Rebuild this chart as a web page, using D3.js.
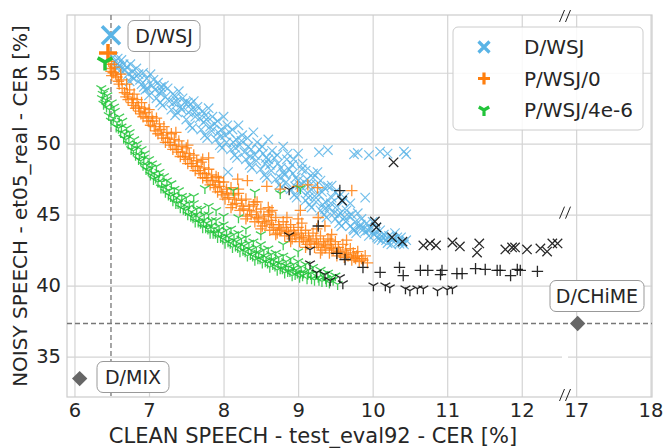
<!DOCTYPE html>
<html><head><meta charset="utf-8">
<script src="https://cdn.jsdelivr.net/npm/d3@7"></script>
<style>
body{margin:0;background:#fff;}
svg{display:block;}
.t{font-family:"DejaVu Sans",sans-serif;}
</style></head>
<body><svg id="c" width="663" height="448"></svg>
<script>
// ---------------- DATA ----------------
const xTicks = [6,7,8,9,10,11,12,17,18];
const yTicks = [35,40,45,50,55];
const seriesNames = ["D/WSJ","P/WSJ/0","P/WSJ/4e-6"];
const xLabel = "CLEAN SPEECH - test_eval92 - CER [%]";
const yLabel = "NOISY SPEECH - et05_real - CER [%]";

// D/WSJ (blue x)
const wsjPts = [[6.52,56.1],[6.55,55.8],[6.58,56.0],[6.6,55.5],[6.57,55.3],[6.63,55.9],[6.66,55.6],[6.62,55.2],
[6.7,55.4],[6.72,54.9],[6.75,55.6],[6.78,55.1],[6.8,54.6],[6.74,54.4],[6.83,55.3],[6.86,54.9],
[6.9,54.2],[6.92,55.0],[6.95,53.8],[6.97,54.6],[7.0,53.4],[7.02,54.9],[7.04,54.1],[6.98,53.9],[7.06,54.5],
[7.1,53.2],[7.12,54.3],[7.15,52.9],[7.17,53.7],[7.2,54.1],[7.22,53.3],[7.18,52.7],[7.25,53.9],[7.14,53.6],
[7.3,52.4],[7.32,53.5],[7.35,52.0],[7.37,53.0],[7.4,53.7],[7.42,52.6],[7.38,52.2],[7.45,53.2],[7.33,52.9],
[7.5,51.7],[7.52,52.9],[7.55,51.3],[7.57,52.4],[7.6,53.0],[7.62,51.9],[7.58,51.1],[7.65,52.6],[7.53,52.2],
[7.7,51.0],[7.72,52.3],[7.75,50.6],[7.77,51.7],[7.8,52.5],[7.82,51.2],[7.78,50.4],[7.85,51.9],[7.73,51.5],
[7.9,50.3],[7.92,51.6],[7.95,49.9],[7.97,51.0],[8.0,51.9],[8.02,50.6],[7.98,49.7],[8.05,51.3],[7.93,50.8],
[8.1,49.6],[8.12,51.0],[8.15,49.2],[8.17,50.3],[8.2,51.3],[8.22,49.9],[8.18,49.0],[8.25,50.6],[8.13,50.1],
[8.3,48.9],[8.32,50.4],[8.35,48.5],[8.37,49.6],[8.4,50.8],[8.42,49.2],[8.38,48.3],[8.45,50.1],[8.33,49.8],
[8.5,48.2],[8.52,49.8],[8.55,47.8],[8.57,49.0],[8.6,50.3],[8.62,48.5],[8.58,47.6],[8.65,49.5],[8.53,49.3],[8.6,48.9],
[8.7,47.5],[8.72,49.2],[8.75,47.1],[8.77,48.3],[8.8,49.8],[8.82,47.8],[8.78,46.9],[8.85,48.9],[8.73,48.6],[8.8,48.0],
[8.9,46.8],[8.92,48.5],[8.95,46.4],[8.97,47.6],[9.0,49.3],[9.02,47.1],[8.98,46.2],[9.05,48.2],[8.93,47.9],[9.0,47.4],
[9.1,46.0],[9.12,47.5],[9.15,45.7],[9.17,46.8],[9.2,47.9],[9.22,46.3],[9.18,45.5],[9.25,47.1],[9.13,46.5],
[9.3,45.3],[9.32,46.6],[9.35,45.0],[9.37,45.9],[9.4,47.0],[9.42,45.5],[9.38,44.8],[9.45,46.2],[9.33,45.7],
[9.5,44.7],[9.52,45.6],[9.55,44.4],[9.57,45.1],[9.6,45.9],[9.62,44.8],[9.58,44.2],[9.65,45.3],
[9.7,44.2],[9.72,45.0],[9.75,43.9],[9.77,44.5],[9.8,45.1],[9.82,44.1],[9.78,43.7],[9.85,44.7],
[9.9,43.8],[9.92,44.4],[9.95,43.5],[9.97,44.0],[10.0,44.5],[10.02,43.6],[10.05,44.1],[10.08,43.3],
[10.1,43.9],[10.12,43.2],[10.15,43.6],[10.2,43.0],[10.22,43.5],[10.25,42.9],[10.28,43.3],[10.3,43.7],
[10.35,43.1],[10.38,43.4],[10.42,42.9],[10.45,43.2],[10.4,43.0],
[9.28,49.4],[9.4,49.55],[9.75,49.25],[9.8,49.35],[9.95,49.2],[10.1,49.45],[10.2,49.3],[10.42,49.45],[10.45,49.25],
[9.16,47.1],[9.45,47.05],[9.9,46.2],[8.06,48.0],[9.55,46.3],
[6.58,55.6],[6.68,55.2],[6.77,54.7],[6.88,54.5],[6.93,54.0],[7.08,53.8],[7.16,54.0],[7.27,53.0],[7.36,53.3],[7.44,52.4],
[7.48,52.9],[7.56,52.8],[7.63,52.3],[7.68,51.8],[7.76,52.0],[7.84,50.9],[7.88,51.4],[7.96,50.5],[8.04,50.1],[8.08,50.8],
[8.16,49.7],[8.24,50.2],[8.28,49.4],[8.36,49.1],[8.44,48.8],[8.48,49.6],[8.56,48.6],[8.64,48.1],[8.68,49.0],[8.76,47.6],
[8.84,47.3],[8.88,48.2],[8.96,47.0],[9.04,46.7],[9.08,47.3],[9.14,46.2],[9.24,45.9],[9.28,46.4],[9.36,45.4],[9.44,45.8],
[9.48,45.1],[9.54,45.0],[9.64,44.5],[9.68,44.9],[9.74,44.0],[9.84,44.3],[9.88,44.0],[9.94,43.9],[10.04,43.8],[10.06,43.4],
[10.14,43.4],[10.18,43.2],[10.26,43.2],[10.33,43.4],[10.36,42.95],
[8.86,49.3],[8.94,48.9],[9.06,48.6],[9.1,48.1],[9.2,47.6],[9.3,47.4],[9.26,48.0],[9.35,46.9],[9.5,46.6],[9.62,46.2],[9.7,45.8]];

// P/WSJ/0 (orange +)
const wsj0Pts = [[6.46,55.8],[6.48,55.3],[6.5,55.6],[6.52,55.0],[6.54,55.4],[6.5,54.8],
[6.57,54.7],[6.6,54.2],[6.62,54.9],[6.64,53.9],[6.59,54.4],
[6.67,53.6],[6.7,54.2],[6.72,53.1],[6.74,53.8],[6.69,53.3],
[6.77,52.9],[6.8,53.5],[6.82,52.5],[6.84,53.1],[6.79,52.7],
[6.87,52.3],[6.9,52.9],[6.92,51.9],[6.94,52.5],[6.89,52.1],
[6.97,51.8],[7.0,52.4],[7.02,51.3],[7.04,51.9],[6.99,51.6],
[7.07,51.2],[7.1,51.8],[7.12,50.7],[7.14,51.4],[7.09,50.9],
[7.17,50.6],[7.2,51.2],[7.22,50.1],[7.24,50.8],[7.19,50.4],
[7.27,50.1],[7.3,50.7],[7.32,49.6],[7.34,50.3],[7.29,49.9],
[7.37,49.6],[7.4,50.2],[7.42,49.1],[7.44,49.8],[7.39,49.4],
[7.47,49.1],[7.5,49.7],[7.52,48.6],[7.54,49.3],[7.49,48.9],
[7.57,48.6],[7.6,49.2],[7.62,48.1],[7.64,48.8],[7.59,48.4],
[7.67,48.1],[7.7,48.7],[7.72,47.6],[7.74,48.3],[7.69,47.9],
[7.77,47.6],[7.8,48.2],[7.82,47.1],[7.84,47.8],[7.79,47.4],
[7.87,47.1],[7.9,47.7],[7.92,46.6],[7.94,47.3],[7.89,46.9],
[7.97,46.6],[8.0,47.3],[8.02,46.1],[8.04,46.8],[7.99,46.4],
[8.07,46.2],[8.1,46.9],[8.12,45.7],[8.14,46.4],
[8.17,45.8],[8.2,46.5],[8.22,45.3],[8.24,46.0],
[8.27,45.4],[8.3,46.1],[8.32,44.9],[8.34,45.6],
[8.37,45.0],[8.4,45.7],[8.42,44.5],[8.44,45.2],
[8.47,44.7],[8.5,45.4],[8.52,44.2],[8.54,44.9],
[8.57,44.4],[8.6,45.0],[8.62,43.9],[8.64,44.6],
[8.67,44.1],[8.7,44.8],[8.72,43.7],[8.74,44.3],
[8.77,43.9],[8.8,44.5],[8.82,43.5],[8.84,44.1],
[8.87,43.7],[8.9,44.3],[8.92,43.3],[8.94,43.9],
[8.97,43.5],[9.0,44.1],[9.02,43.1],[9.04,43.7],
[9.07,43.3],[9.1,43.9],[9.12,42.9],[9.14,43.5],
[9.17,43.1],[9.2,43.7],[9.22,42.7],[9.24,43.3],
[9.27,42.9],[9.3,43.5],[9.32,42.5],[9.34,43.1],
[9.37,42.7],[9.4,43.3],[9.42,42.3],[9.44,42.9],
[9.47,42.5],[9.5,43.1],[9.52,42.1],[9.54,42.7],
[9.57,42.3],[9.6,42.9],[9.62,42.0],[9.64,42.5],
[9.67,42.1],[9.7,42.6],[9.72,41.8],[9.74,42.3],
[9.77,41.9],[9.8,42.4],[9.82,41.7],
[9.87,41.8],[9.9,42.1],[9.93,41.6],
[7.93,47.6],[8.19,47.5],[8.32,47.4],[8.58,47.0],[8.76,46.8],[8.99,47.0],[9.13,47.1],[9.26,46.9],[9.72,46.7],
[9.03,45.3],[9.0,44.7],[9.27,44.8],[9.36,44.2],[8.6,45.5],[8.62,45.2],[8.42,45.9],[9.43,43.2],[9.79,42.1],
[7.36,50.8],[7.52,49.9],[7.72,48.9],[7.8,49.0],
[6.49,55.1],[6.55,54.9],[6.63,54.5],[6.71,53.5],[6.78,53.2],[6.86,52.6],[6.95,52.2],[7.05,51.6],[7.15,51.0],[7.25,50.4],
[7.35,49.9],[7.45,49.4],[7.55,49.0],[7.65,48.4],[7.75,47.9],[7.85,47.4],[7.95,47.0],[8.05,46.5],[8.15,46.1],[8.25,45.6],
[8.35,45.3],[8.45,44.8],[8.55,44.5],[8.65,44.3],[8.75,44.0],[8.85,43.8],[8.95,43.6],[9.05,43.4],[9.15,43.2],[9.25,43.0],
[9.35,42.8],[9.45,42.6],[9.55,42.4],[9.65,42.2],[9.75,42.0],[9.85,41.9],
[8.1,45.5],[8.3,44.7],[8.5,44.0],[8.7,43.6],[8.9,43.1],[9.1,42.7],[9.3,42.3],[8.2,46.8],[8.45,45.9],[8.65,45.3],
[8.85,44.8],[9.05,44.4],[9.25,44.0],[9.45,43.6],[9.65,43.2]];

// P/WSJ/4e-6 (green tri)
const wsj4e6Pts = [[6.36,53.9],[6.38,53.5],[6.4,53.7],[6.42,53.1],[6.39,52.8],[6.44,53.4],[6.43,52.6],
[6.47,52.4],[6.5,52.9],[6.52,51.8],[6.49,51.6],[6.54,52.3],
[6.57,51.5],[6.6,51.9],[6.62,50.8],[6.59,51.1],[6.64,51.6],
[6.67,50.7],[6.7,51.1],[6.72,50.0],[6.69,50.3],[6.74,50.8],
[6.77,49.9],[6.8,50.3],[6.82,49.2],[6.79,49.5],[6.84,50.0],
[6.87,49.2],[6.9,49.6],[6.92,48.5],[6.89,48.8],[6.94,49.3],
[6.97,48.5],[7.0,48.9],[7.02,47.8],[6.99,48.1],[7.04,48.6],
[7.07,47.9],[7.1,48.4],[7.12,47.3],[7.09,47.6],[7.14,48.0],
[7.17,47.3],[7.2,47.7],[7.22,46.6],[7.19,46.9],[7.24,47.4],
[7.27,46.7],[7.3,47.2],[7.32,46.0],[7.29,46.3],[7.34,46.8],
[7.37,46.2],[7.4,46.7],[7.42,45.5],[7.39,45.8],[7.44,46.3],
[7.47,45.7],[7.5,46.2],[7.52,45.0],[7.49,45.3],[7.54,45.8],
[7.57,45.2],[7.6,45.8],[7.62,44.5],[7.59,44.8],[7.64,45.4],
[7.67,44.8],[7.7,45.4],[7.72,44.1],[7.69,44.4],[7.74,45.0],
[7.77,44.4],[7.8,45.0],[7.82,43.7],[7.79,44.0],[7.84,44.6],
[7.87,44.0],[7.9,44.6],[7.92,43.4],[7.89,43.7],[7.94,44.2],
[7.97,43.7],[8.0,44.3],[8.02,43.0],[7.99,43.3],[8.04,43.9],
[8.07,43.4],[8.1,44.0],[8.12,42.7],[8.09,43.0],[8.14,43.6],
[8.17,43.1],[8.2,43.7],[8.22,42.4],[8.19,42.7],[8.24,43.3],
[8.27,42.8],[8.3,43.4],[8.32,42.1],[8.29,42.4],[8.34,43.0],
[8.37,42.5],[8.4,43.1],[8.42,41.8],[8.39,42.1],[8.44,42.7],
[8.47,42.3],[8.5,42.9],[8.52,41.6],[8.49,41.9],[8.54,42.5],
[8.57,42.0],[8.6,42.6],[8.62,41.3],[8.59,41.6],[8.64,42.2],
[8.67,41.8],[8.7,42.3],[8.72,41.1],[8.69,41.4],[8.74,42.0],
[8.77,41.5],[8.8,42.1],[8.82,40.9],[8.79,41.2],[8.84,41.7],
[8.87,41.3],[8.9,41.9],[8.92,40.7],[8.89,41.0],[8.94,41.5],
[8.97,41.1],[9.0,41.7],[9.02,40.6],[8.99,40.9],[9.04,41.3],
[9.07,40.9],[9.1,41.5],[9.12,40.5],[9.14,41.1],
[9.17,40.8],[9.2,41.3],[9.22,40.4],[9.24,40.9],
[9.27,40.6],[9.3,41.1],[9.32,40.3],[9.34,40.8],
[9.37,40.5],[9.4,40.9],[9.42,40.2],
[9.47,40.4],[9.5,40.7],[9.53,40.1],
[7.75,46.85],[8.13,46.7],[8.42,46.6],[8.76,46.5],[9.03,46.85],[7.9,45.3],[8.2,44.8],
[6.37,53.2],[6.41,52.9],[6.46,52.0],[6.53,52.6],[6.56,51.2],[6.63,51.2],[6.66,50.4],[6.73,50.5],[6.76,49.6],[6.83,49.7],
[6.86,48.9],[6.93,49.0],[6.96,48.2],[7.03,48.3],[7.06,47.5],[7.13,47.7],[7.16,46.9],[7.23,47.0],[7.26,46.4],[7.33,46.4],
[7.36,45.8],[7.43,46.0],[7.46,45.4],[7.53,45.5],[7.56,44.9],[7.63,45.0],[7.66,44.5],[7.73,44.6],[7.76,44.1],[7.83,44.2],
[7.86,43.7],[7.93,43.9],[7.96,43.4],[8.03,43.5],[8.06,43.1],[8.13,43.2],[8.16,42.8],[8.23,42.9],[8.26,42.5],[8.33,42.6],
[8.36,42.2],[8.43,42.3],[8.46,41.9],[8.53,42.1],[8.56,41.7],[8.63,41.8],[8.66,41.5],[8.73,41.6],[8.76,41.2],[8.83,41.4],
[8.86,41.0],[8.93,41.2],[8.96,40.8],[9.03,40.9],[9.06,40.7],[9.13,40.8],[9.18,40.5],[9.28,40.4],[9.38,40.3],[9.45,40.6],
[7.6,46.3],[7.8,45.6],[8.0,44.9],[8.3,44.0],[8.5,43.6],[8.8,42.9],[9.0,42.4]];

// black (worse than reference) points
const wsjOut = [[10.28,48.69],[9.59,46.0],[10.03,44.52],[10.05,44.1],[10.26,43.4],[10.4,43.1],[10.68,42.83],[10.77,42.97],
[10.85,42.83],[11.07,43.04],[11.17,42.76],[11.43,42.97],[11.4,42.33],[11.78,42.55],[11.87,42.69],[11.91,42.69],
[12.07,42.55],[12.25,42.62],[12.34,42.4],[12.41,42.97],[12.48,42.97]];
const wsj0Out = [[9.56,46.7],[9.27,44.2],[9.52,42.27],[9.63,41.84],[9.87,41.28],[10.1,40.93],[10.36,41.28],[10.41,40.71],
[10.64,41.07],[10.74,41.07],[10.93,41.07],[10.91,40.78],[11.13,40.85],[11.2,40.85],[11.38,41.2],[11.51,41.14],
[11.67,41.07],[11.71,41.07],[11.85,40.71],[11.94,41.14],[11.98,41.07],[12.21,41.0]];
const wsj4e6Out = [[8.88,46.77],[8.88,43.53],[9.16,42.54],[9.16,41.55],[9.25,40.92],[9.36,40.78],[9.43,40.36],[9.56,40.57],
[9.6,40.15],[10.01,40.0],[10.17,40.0],[10.23,39.86],[10.44,39.79],[10.5,39.65],[10.6,39.79],[10.68,39.79],
[10.87,39.65],[11.0,39.72],[11.07,39.79]];

// reference systems
const refWsj = [6.49, 57.65];
const refWsj0 = [6.45, 56.4];
const refWsj4e6 = [6.41, 55.75];
const refChime = [17.02, 37.33];
const refMix = [6.07, 33.45];
const refLabels = ["D/WSJ","D/CHiME","D/MIX"];
const vLineX = 6.49;
const hLineY = 37.33;

// ---------------- DRAW ----------------
const svg = d3.select("#c");
const L=67, R=652, T=15, B=397, BRK=565;
const x = d3.scaleLinear().domain([5.9,12.58,16.85,18.02]).range([L,BRK,BRK,R]);
const y = d3.scaleLinear().domain([32.15,59.07]).range([B,T]);
const gridC = "#d4d4d4", txtC = "#262626";

// grid
svg.append("g").attr("transform",`translate(0,${B})`)
  .call(d3.axisBottom(x).tickValues(xTicks).tickSize(-(B-T)).tickFormat(""))
  .call(g=>g.select(".domain").remove())
  .selectAll("line").attr("stroke",gridC).attr("stroke-width",1.2);
svg.append("g").attr("transform",`translate(${L},0)`)
  .call(d3.axisLeft(y).tickValues(yTicks).tickSize(-(R-L)).tickFormat(""))
  .call(g=>g.select(".domain").remove())
  .selectAll("line").attr("stroke",gridC).attr("stroke-width",1.2);
svg.append("rect").attr("x",BRK-3).attr("y",y(35)-2).attr("width",6).attr("height",4).attr("fill","#fff");
svg.append("rect").attr("x",L).attr("y",T).attr("width",R-L).attr("height",B-T)
  .attr("fill","none").attr("stroke","#cccccc").attr("stroke-width",1.2);

// tick labels
const xa = svg.append("g").attr("transform",`translate(0,${B})`)
  .call(d3.axisBottom(x).tickValues(xTicks).tickSize(0).tickPadding(6).tickFormat(d3.format("d")));
xa.select(".domain").remove();
xa.selectAll("text").attr("class","t").attr("font-size",19.5).attr("fill",txtC);
const ya = svg.append("g").attr("transform",`translate(${L},0)`)
  .call(d3.axisLeft(y).tickValues(yTicks).tickSize(0).tickPadding(6).tickFormat(d3.format("d")));
ya.select(".domain").remove();
ya.selectAll("text").attr("class","t").attr("font-size",19.5).attr("fill",txtC);

// axis titles
svg.append("text").attr("class","t").attr("x",313).attr("y",443).attr("text-anchor","middle")
  .attr("font-size",21).attr("fill",txtC).text(xLabel);
svg.append("text").attr("class","t").attr("transform",`translate(27,${(T+B)/2}) rotate(-90)`)
  .attr("text-anchor","middle").attr("font-size",20).attr("fill",txtC).text(yLabel);

// dashed reference lines
svg.append("line").attr("x1",x(vLineX)).attr("x2",x(vLineX)).attr("y1",T).attr("y2",B)
  .attr("stroke","#777").attr("stroke-width",1.3).attr("stroke-dasharray","5,3");
svg.append("line").attr("x1",L).attr("x2",R).attr("y1",y(hLineY)).attr("y2",y(hLineY))
  .attr("stroke","#777").attr("stroke-width",1.3).attr("stroke-dasharray","5,3");

// marker shapes
const shapeX = a=>`M${-a},${-a}L${a},${a}M${-a},${a}L${a},${-a}`;
const shapeP = a=>`M${-a},0H${a}M0,${-a}V${a}`;
const shapeY = a=>`M0,0V${a}M0,0L${-0.866*a},${-0.5*a}M0,0L${0.866*a},${-0.5*a}`;

const colB="#5ab4e6", colO="#ff7f0e", colG="#22c43a";
function scatter(data, shape, size, color, sw, op){
  svg.append("g").selectAll("path").data(data).join("path")
    .attr("transform",d=>`translate(${x(d[0])},${y(d[1])})`)
    .attr("d",shape(size)).attr("fill","none").attr("stroke",color)
    .attr("stroke-width",sw).attr("stroke-opacity",op);
}
scatter(wsjPts, shapeX, 4.7, colB, 1.2, 0.85);
scatter(wsj0Pts, shapeP, 5.7, colO, 1.3, 0.85);
scatter(wsj4e6Pts, shapeY, 5.7, colG, 1.3, 0.85);
scatter(wsjOut, shapeX, 4.7, "#111", 1.3, 0.9);
scatter(wsj0Out, shapeP, 5.7, "#111", 1.3, 0.9);
scatter(wsj4e6Out, shapeY, 5.7, "#111", 1.3, 0.9);

// reference markers
scatter([refWsj], shapeX, 9, colB, 3.5, 1);
scatter([refWsj0], shapeP, 9, colO, 3.5, 1);
scatter([refWsj4e6], shapeY, 8.5, colG, 3.5, 1);
svg.append("g").selectAll("path").data([refChime, refMix]).join("path")
  .attr("transform",d=>`translate(${x(d[0])},${y(d[1])})`)
  .attr("d",d3.symbol().type(d3.symbolDiamond2).size(150)).attr("fill","#666");

// break marks
function brk(cx, cy){
  const g = svg.append("g");
  [-3,3].forEach(o=>g.append("line").attr("x1",cx+o-2.5).attr("y1",cy+6).attr("x2",cx+o+2.5).attr("y2",cy-6)
    .attr("stroke","#222").attr("stroke-width",1));
}
brk(BRK, T+1); brk(BRK, y(45)-2); brk(BRK, B-2);

// annotation boxes
function note(txt, cx, cy, w){
  const g = svg.append("g");
  g.append("rect").attr("x",cx-w/2).attr("y",cy-15.5).attr("width",w).attr("height",31).attr("rx",6)
    .attr("fill","#fff").attr("stroke","#999").attr("stroke-width",1);
  g.append("text").attr("class","t").attr("x",cx).attr("y",cy+7).attr("text-anchor","middle")
    .attr("font-size",19).attr("fill",txtC).text(txt);
}
note(refLabels[0], 164, 36, 72);
note(refLabels[1], 597, 296, 94);
note(refLabels[2], 133, 377, 72);

// legend
const lg = svg.append("g");
lg.append("rect").attr("x",453).attr("y",27).attr("width",190).attr("height",103).attr("rx",5)
  .attr("fill","#fff").attr("fill-opacity",0.85).attr("stroke","#cccccc");
const legShapes=[[shapeX,5.5,colB],[shapeP,6,colO],[shapeY,6,colG]];
seriesNames.forEach((n,i)=>{
  const cy = 47 + i*31.5;
  lg.append("path").attr("transform",`translate(484,${cy})`).attr("d",legShapes[i][0](legShapes[i][1]))
    .attr("fill","none").attr("stroke",legShapes[i][2]).attr("stroke-width",3.2);
  lg.append("text").attr("class","t").attr("x",524).attr("y",cy+7).attr("font-size",20)
    .attr("fill",txtC).text(n);
});
</script></body></html>
